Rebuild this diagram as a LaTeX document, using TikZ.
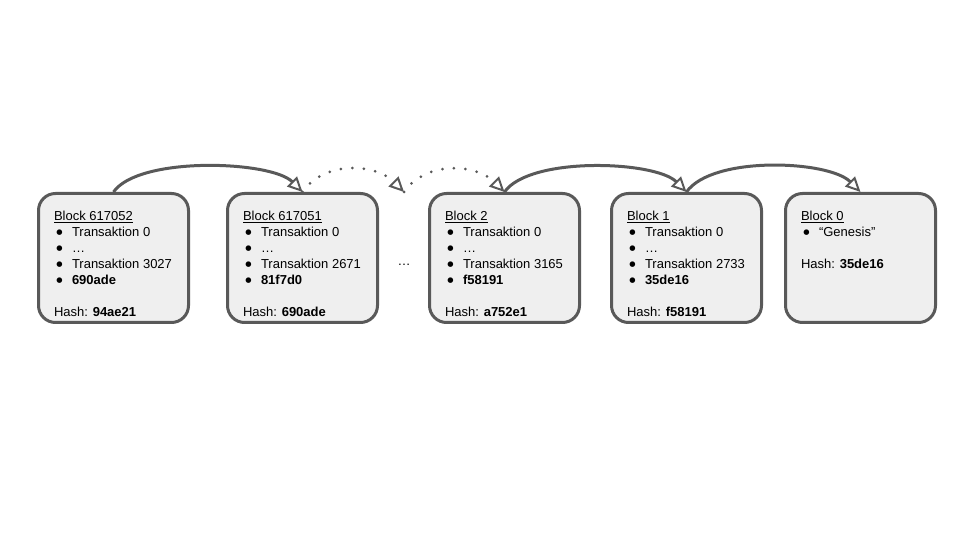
\documentclass[tikz,border=0pt]{standalone}
\usepackage{fontspec}
\setmainfont{Liberation Sans}
\newfontfamily\dotfont{DejaVu Sans}
\usetikzlibrary{arrows.meta}
\usetikzlibrary{positioning}
\definecolor{blockgray}{HTML}{595959}
\definecolor{blockfill}{HTML}{EFEFEF}

\newcommand{\bul}{\makebox[18pt][l]{\hspace{2.4pt}\raisebox{2pt}{\dotfont\fontsize{7.2}{16}\selectfont ●}}}
\newcommand{\blocktext}[1]{\parbox[c][100pt][t]{119pt}{\rule{0pt}{12.6pt}#1}}

\begin{document}
\begin{tikzpicture} [>={Triangle[open,length=15pt,width=14pt,line width=2pt]},line width=3pt,
    every node/.style={font=\fontsize{13}{16}\selectfont},
    block/.style={draw=blockgray,fill=blockfill,rounded corners=17pt,inner xsep=15.5pt,inner ysep=14.5pt},
    link/.style={->,draw=blockgray,out=55,in=135},
    gaplink/.style={link,dash pattern=on 0pt off 11.5pt,line cap=round}]

  \useasboundingbox (0,0) rectangle (960pt,540pt);

  \node[block] (b1) at (113.5pt,282pt) {\blocktext{\underline{Block 617052}\\ \bul Transaktion 0\\ \bul …\\ \bul Transaktion 3027\\ \bul \textbf{690ade}\\[16pt] Hash: \textbf{94ae21}}};
  \node[block] (b2) [right=36pt of b1] {\blocktext{\underline{Block 617051}\\ \bul Transaktion 0\\ \bul …\\ \bul Transaktion 2671\\ \bul \textbf{81f7d0}\\[16pt] Hash: \textbf{690ade}}};
  \node[block] (b3) [right=49pt of b2] {\blocktext{\underline{Block 2}\\ \bul Transaktion 0\\ \bul …\\ \bul Transaktion 3165\\ \bul \textbf{f58191}\\[16pt] Hash: \textbf{a752e1}}};
  \node[block] (b4) [right=29pt of b3] {\blocktext{\underline{Block 1}\\ \bul Transaktion 0\\ \bul …\\ \bul Transaktion 2733\\ \bul \textbf{35de16}\\[16pt] Hash: \textbf{f58191}}};
  \node[block] (b5) [right=21pt of b4] {\blocktext{\underline{Block 0}\\ \bul “Genesis”\\[16pt] Hash: \textbf{35de16}}};

  \node[anchor=base] (gapdots) at (404pt,274pt) {…};
  \coordinate (gap) at (gapdots |- b2.north);

  \draw[link,looseness=0.6] (b1.north) to (b2.north);
  \draw[gaplink] (b2.north) to (gap);
  \draw[gaplink] (gap) to (b3.north);
  \draw[link,looseness=0.62] (b3.north) to (b4.north);
  \draw[link,looseness=0.66] (b4.north) to (b5.north);

\end{tikzpicture}
\end{document}
